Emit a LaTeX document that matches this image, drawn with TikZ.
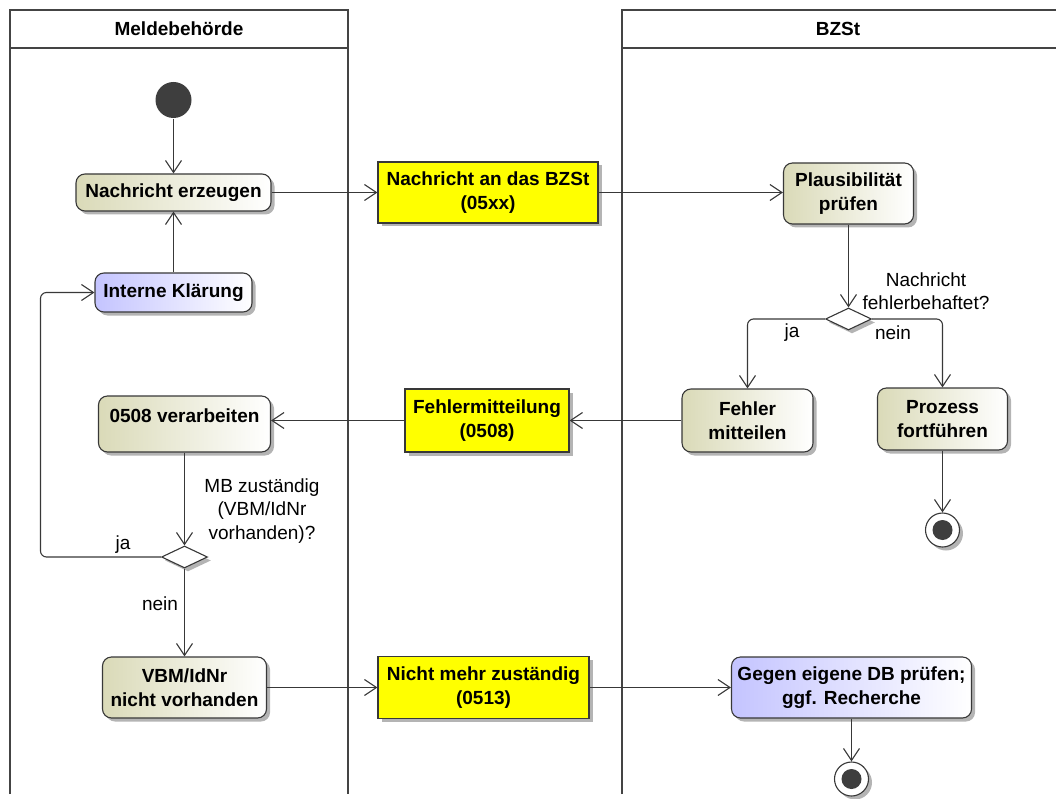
\documentclass[tikz,border=0pt]{standalone}
\usepackage{fontspec}
\setmainfont{Liberation Sans}
\usetikzlibrary{arrows.meta, shapes.geometric, shadows}
\definecolor{cline}{HTML}{383838}
\definecolor{clane}{HTML}{444444}
\definecolor{cdark}{HTML}{3E3E3E}
\definecolor{colive}{HTML}{DADAB8}
\definecolor{cviolet}{HTML}{C4C4FF}
\definecolor{cyellow}{HTML}{FFFF00}
\definecolor{cshadow}{HTML}{B4B4B4}
\tikzset{
  every picture/.style={font=\fontsize{19}{23.5}\selectfont, line width=1.1pt},
  umlshadow/.style={drop shadow={shadow xshift=3.5pt, shadow yshift=-3.5pt, fill=cshadow, opacity=1}},
  act/.style={draw=cline, rounded corners=9pt, left color=#1, right color=white, align=center, inner sep=0pt, font=\fontsize{19}{23.5}\selectfont\bfseries, umlshadow},
  act/.default=colive,
  msg/.style={draw=cline, fill=cyellow, align=center, inner sep=0pt, font=\fontsize{19}{23.5}\selectfont\bfseries, umlshadow},
  decision/.style={diamond, draw=cline, fill=white, inner sep=0pt, minimum width=46pt, minimum height=22pt, umlshadow},
  startdot/.style={circle, fill=cdark, inner sep=0pt, minimum size=36pt},
  enddot/.style={circle, draw=cline, fill=white, inner sep=0pt, minimum size=34pt, umlshadow,
    path picture={\fill[cdark] (path picture bounding box.center) circle (10pt);}},
  flow/.style={draw=cline, -{Straight Barb[length=12pt, width=16pt]}},
  lane/.style={draw=clane, line width=2.8pt},
  lanetitle/.style={font=\fontsize{19}{23.5}\selectfont\bfseries},
  guard/.style={align=center},
}

\begin{document}
\begin{tikzpicture}[x=1pt, y=-1pt]
  \useasboundingbox (0,0) rectangle (1056,799);
  % swimlanes
  \draw[lane] (10,794) -- (10,10) -- (348,10) -- (348,794);
  \draw[lane] (10,48) -- (348,48);
  \draw[lane] (622,794) -- (622,10) -- (1056,10);
  \draw[lane] (622,48) -- (1056,48);
  \node[lanetitle] (mb) at (179,29) {Meldebehörde};
  \node[lanetitle] (bzst) at (838,29) {BZSt};
  % Meldebehoerde
  \node[startdot] (start) at (173.5,100) {};
  \node[act, minimum width=195pt, minimum height=37pt] (erz) at (173.5,192.5) {Nachricht erzeugen};
  \node[act=cviolet, minimum width=157pt, minimum height=39pt] (klar) at (173.5,292.5) {Interne Klärung};
  \node[act, minimum width=172pt, minimum height=56pt, text height=20pt, text depth=24pt] (verarb) at (184.5,424) {0508 verarbeiten};
  \node[decision] (mbq) at (184.5,557) {};
  \node[act, minimum width=164pt, minimum height=61pt] (vbm) at (184.5,687.5) {VBM/IdNr\\nicht vorhanden};
  \coordinate (loop) at (40.5,292.5);
  % Nachrichten
  \node[msg, minimum width=220pt, minimum height=61pt] (m05) at (488,192.5) {Nachricht an das BZSt\\(05xx)};
  \node[msg, minimum width=164pt, minimum height=63pt] (m08) at (487,420.5) {Fehlermitteilung\\(0508)};
  \node[msg, minimum width=211pt, minimum height=62pt] (m13) at (483.5,687.5) {Nicht mehr zuständig\\(0513)};
  % BZSt
  \node[act, minimum width=130pt, minimum height=61pt] (plaus) at (848.5,193.5) {Plausibilität\\prüfen};
  \node[decision] (fq) at (848.5,319) {};
  \node[act, minimum width=131pt, minimum height=63pt] (fehler) at (747.5,420.5) {Fehler\\mitteilen};
  \node[act, minimum width=130pt, minimum height=62pt] (proz) at (942.5,419) {Prozess\\fortführen};
  \node[enddot] (end1) at (942.5,530) {};
  \node[act=cviolet, minimum width=240pt, minimum height=61pt] (gegen) at (851.5,687.5) {Gegen eigene DB prüfen;\\ggf. Recherche};
  \node[enddot] (end2) at (851.5,779) {};
  % guards
  \node[guard] (fqtext) at (926,291) {Nachricht\\fehlerbehaftet?};
  \node (fqja) at (792,333) {ja};
  \node (fqnein) at (893,333) {nein};
  \node[guard] (mbqtext) at (262,511) {MB zuständig\\(VBM/IdNr\\vorhanden)?};
  \node (mbqja) at (123,545) {ja};
  \node (mbqnein) at (160,604) {nein};
  % flows
  \draw[flow] (start) -- (erz);
  \draw[flow] (klar) -- (erz);
  \draw[flow] (erz) -- (m05);
  \draw[flow] (m05) -- (plaus.west |- m05);
  \draw[flow] (plaus) -- (fq);
  \draw[flow, rounded corners=6pt] (fq.west) -| (fehler);
  \draw[flow, rounded corners=6pt] (fq.east) -| (proz);
  \draw[flow] (fehler) -- (m08);
  \draw[flow] (m08.west) -- (m08.west -| verarb.east);
  \draw[flow] (verarb) -- (mbq);
  \draw[flow, rounded corners=6pt] (mbq.west) -| (loop) -- (klar.west);
  \draw[flow] (mbq) -- (vbm);
  \draw[flow] (vbm) -- (m13);
  \draw[flow] (m13) -- (gegen);
  \draw[flow] (proz) -- (end1);
  \draw[flow] (gegen) -- (end2);
\end{tikzpicture}
\end{document}
